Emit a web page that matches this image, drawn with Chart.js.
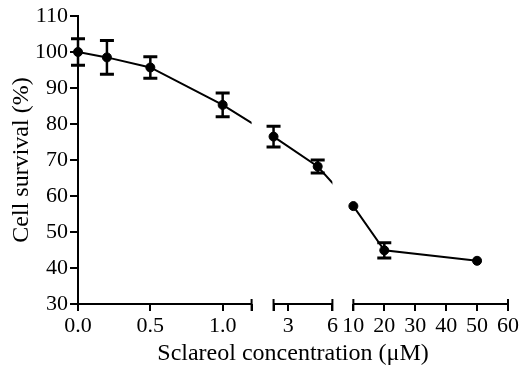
<!DOCTYPE html>
<html>
<head>
<meta charset="utf-8">
<script src="https://cdn.jsdelivr.net/npm/chart.js@4"></script>
<style>
  html, body { margin: 0; padding: 0; background: #fff; }
  #wrap { width: 521px; height: 368px; }
</style>
</head>
<body>
<div id="wrap"><canvas id="chart1"></canvas></div>
<script>
// data
const concentration = [0, 0.2, 0.5, 1, 2, 5, 10, 20, 50];
const survival = [100, 98.5, 95.7, 85.3, 76.5, 68.2, 57.2, 44.9, 42.0];
const sem = [3.7, 4.7, 3.0, 3.3, 2.9, 1.8, 0, 2.1, 0];
const xTicks = [0, 0.5, 1, 1.2, 2, 3, 6, 10, 20, 30, 40, 50, 60];
const xLabelled = [0, 0.5, 1, 3, 6, 10, 20, 30, 40, 50, 60];

// broken x axis: value ranges and where each piece sits (fraction of axis width)
const segments = [
  { min: 0, max: 1.2, from: 0, to: 174 / 431 },
  { min: 2, max: 6, from: 196 / 431, to: 255 / 431 },
  { min: 10, max: 60, from: 276 / 431, to: 1 }
];

const serif = '"Liberation Serif", "Times New Roman", serif';
const tickFont = { family: serif, size: 22 };
const titleFont = { family: serif, size: 24 };

class BrokenScale extends Chart.LinearScale {
  determineDataLimits() {
    this.min = 0;
    this.max = 60;
  }
  buildTicks() {
    return xTicks.map(v => ({ value: v }));
  }
  getPixelForValue(value) {
    if (value === null || value === undefined) return NaN;
    const s = segments.find(s => value <= s.max) || segments[segments.length - 1];
    const d = s.from + (value - s.min) / (s.max - s.min) * (s.to - s.from);
    return this.getPixelForDecimal(d);
  }
  getValueForPixel(pixel) {
    const d = this.getDecimalForPixel(pixel);
    const s = segments.find(s => d <= s.to) || segments[segments.length - 1];
    return s.min + (d - s.from) / (s.to - s.from) * (s.max - s.min);
  }
}
BrokenScale.id = 'broken';
BrokenScale.defaults = Chart.LinearScale.defaults;
Chart.register(BrokenScale);

const brokenAxis = {
  id: 'brokenAxis',
  beforeDatasetDraw(chart, args) {
    if (args.index !== 0) return;
    const ctx = chart.ctx, xs = chart.scales.x, a = chart.chartArea;
    ctx.save();
    ctx.beginPath();
    segments.forEach(s => {
      const x1 = xs.getPixelForValue(s.min), x2 = xs.getPixelForValue(s.max);
      ctx.rect(x1, a.top - 20, x2 - x1, a.bottom - a.top + 40);
    });
    ctx.clip();
  },
  afterDatasetDraw(chart, args) {
    if (args.index === 0) chart.ctx.restore();
  },
  afterDatasetsDraw(chart) {
    const ctx = chart.ctx, xs = chart.scales.x, ys = chart.scales.y;
    const y0 = chart.chartArea.bottom;
    ctx.save();
    ctx.strokeStyle = '#000';
    // axis pieces with end caps
    segments.forEach((s, i) => {
      const x1 = xs.getPixelForValue(s.min), x2 = xs.getPixelForValue(s.max);
      ctx.lineWidth = 2;
      ctx.beginPath();
      ctx.moveTo(x1 - (i === 0 ? 1 : 0), y0);
      ctx.lineTo(x2, y0);
      ctx.stroke();
      [x1, x2].forEach((x, j) => {
        if (i === 0 && j === 0) return;
        ctx.beginPath();
        ctx.moveTo(x, y0 - 5);
        ctx.lineTo(x, y0 + 7);
        ctx.stroke();
      });
    });
    // error bars
    concentration.forEach((c, i) => {
      if (!sem[i]) return;
      const x = xs.getPixelForValue(c);
      const yt = ys.getPixelForValue(survival[i] + sem[i]);
      const yb = ys.getPixelForValue(survival[i] - sem[i]);
      ctx.lineWidth = 2.5;
      ctx.beginPath();
      ctx.moveTo(x, yt);
      ctx.lineTo(x, yb);
      ctx.stroke();
      ctx.lineWidth = 3;
      ctx.beginPath();
      ctx.moveTo(x - 7, yt);
      ctx.lineTo(x + 7, yt);
      ctx.moveTo(x - 7, yb);
      ctx.lineTo(x + 7, yb);
      ctx.stroke();
    });
    ctx.restore();
  }
};

const points = concentration.map((c, i) => ({ x: c, y: survival[i] }));

new Chart(document.getElementById('chart1').getContext('2d'), {
  type: 'line',
  data: {
    datasets: [
      {
        data: points,
        borderColor: '#000',
        borderWidth: 2,
        pointRadius: 0,
        tension: 0,
        clip: false
      },
      {
        data: points,
        showLine: false,
        pointRadius: 4.5,
        pointBackgroundColor: '#000',
        pointBorderColor: '#000',
        clip: false
      }
    ]
  },
  options: {
    responsive: true,
    maintainAspectRatio: false,
    animation: false,
    layout: { padding: { top: 16, right: 12, left: 0, bottom: 0 } },
    plugins: {
      legend: { display: false },
      tooltip: { enabled: false }
    },
    scales: {
      x: {
        type: 'broken',
        afterFit(scale) { scale.height = 64; },
        border: { display: false },
        grid: {
          drawOnChartArea: false,
          color: '#000',
          lineWidth: 2,
          tickLength: 7
        },
        ticks: {
          autoSkip: false,
          maxRotation: 0,
          padding: 2,
          color: '#000',
          font: tickFont,
          callback: v => xLabelled.includes(v) ? (v < 2 ? v.toFixed(1) : String(v)) : ''
        },
        title: {
          display: true,
          text: 'Sclareol concentration (μM)',
          color: '#000',
          font: titleFont,
          padding: { top: 0, bottom: 0 }
        }
      },
      y: {
        min: 30,
        max: 110,
        afterFit(scale) { scale.width = 78; },
        border: { display: true, color: '#000', width: 2 },
        grid: {
          drawOnChartArea: false,
          color: '#000',
          lineWidth: 2,
          tickLength: 8
        },
        ticks: {
          stepSize: 10,
          padding: 2,
          color: '#000',
          font: tickFont
        },
        title: {
          display: true,
          text: 'Cell survival (%)',
          color: '#000',
          font: titleFont,
          padding: { top: 7, bottom: 0 }
        }
      }
    }
  },
  plugins: [brokenAxis]
});
</script>
</body>
</html>
